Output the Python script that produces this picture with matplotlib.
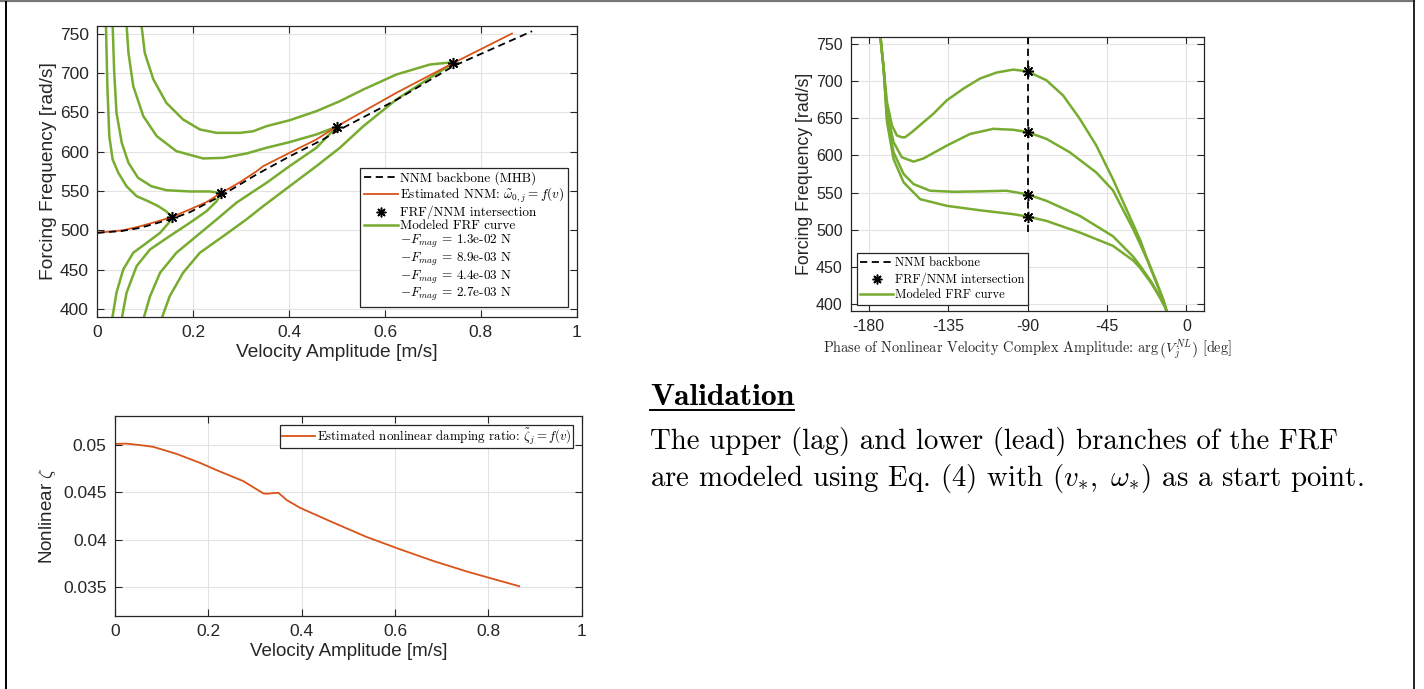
import numpy as np
import matplotlib.pyplot as plt
from matplotlib.lines import Line2D
from matplotlib.ticker import FuncFormatter

plt.rcParams['font.family'] = 'Liberation Sans'
plt.rcParams['mathtext.fontset'] = 'cm'
plt.rcParams['axes.unicode_minus'] = False

# ---- data ----
# NNM backbone (MHB) and estimated NNM, frequency vs velocity amplitude
bb_v = [0, 0.05, 0.089, 0.156, 0.193, 0.257, 0.332, 0.401, 0.471, 0.499, 0.624, 0.743, 0.907]
bb_w = [496.8, 499, 503, 514.6, 523, 543.5, 571, 594, 615.6, 626, 666, 709, 753.4]
est_v = [0, 0.054, 0.089, 0.124, 0.156, 0.193, 0.228, 0.257, 0.297, 0.332, 0.346,
         0.401, 0.457, 0.499, 0.624, 0.743, 0.865]
est_w = [496.8, 500, 505, 511, 517, 526.5, 536, 547, 561, 575, 581.6,
         598.6, 615.6, 632, 675, 713, 750.4]

# FRF/NNM intersections
star_v = [0.156, 0.257, 0.499, 0.743]
star_w = [517, 547, 631.5, 713.5]
star_phase = [-90, -90, -90, -90]

force_labels = ['1.3e-02', '8.9e-03', '4.4e-03', '2.7e-03']

# modeled FRF curves, upper and lower branches (velocity amplitude)
up_v_13 = [0.092, 0.099, 0.117, 0.144, 0.179, 0.214, 0.249, 0.297, 0.325, 0.353, 0.401,
           0.457, 0.506, 0.555, 0.624, 0.694, 0.743]
up_w_13 = [762, 725.8, 691.9, 662.2, 641, 628.3, 624, 624, 626, 632.5, 640,
           651.6, 664.3, 679.2, 698.3, 711, 714]
lo_v_13 = [0.136, 0.151, 0.179, 0.214, 0.263, 0.311, 0.346, 0.401, 0.457, 0.506,
           0.555, 0.624, 0.694, 0.743]
lo_w_13 = [390.8, 416, 446, 471.4, 492.6, 513.8, 530.7, 556, 581.6, 605,
           632.5, 666.5, 694, 713]

up_v_89 = [0.061, 0.065, 0.075, 0.096, 0.124, 0.165, 0.221, 0.263, 0.311, 0.353,
           0.401, 0.457, 0.499]
up_w_89 = [761.9, 725.8, 683.4, 645.2, 619.8, 600.7, 591.4, 592.2, 597.7, 605,
           612.2, 622, 631.7]
lo_v_89 = [0.098, 0.11, 0.131, 0.165, 0.207, 0.249, 0.29, 0.332, 0.353, 0.401, 0.457, 0.499]
lo_w_89 = [390.8, 416, 446, 471.4, 492.6, 513.8, 535, 552, 560.4, 581.6, 605, 631.5]

up_v_44 = [0.032, 0.035, 0.040, 0.051, 0.065, 0.085, 0.113, 0.144, 0.193, 0.235, 0.257]
up_w_44 = [761.9, 704.6, 649.5, 611.3, 585.9, 566.8, 556, 551, 549.4, 549.4, 547.5]
lo_v_44 = [0.052, 0.061, 0.082, 0.11, 0.151, 0.193, 0.228, 0.249, 0.257]
lo_w_44 = [390.8, 420.5, 454.4, 475.6, 492.6, 509.5, 524.4, 537, 547]

up_v_27 = [0.018, 0.021, 0.025, 0.032, 0.044, 0.061, 0.082, 0.106, 0.127, 0.143, 0.156]
up_w_27 = [761.9, 683.4, 619.8, 590, 573, 556, 543.4, 537, 530.7, 524.4, 517]
lo_v_27 = [0.032, 0.040, 0.054, 0.075, 0.103, 0.131, 0.148, 0.156]
lo_w_27 = [390.8, 420.5, 450, 471.4, 484, 496.8, 508.7, 517]

# modeled FRF curves vs phase of the nonlinear velocity amplitude
ph_13 = [-173.4, -171.5, -169.6, -166.8, -164, -161, -159.3, -155.5, -148.9, -143.3, -135.7,
         -126.3, -116.9, -107.5, -98, -90, -79.3, -69.8, -60.4, -51, -41.6, -32.2, -26,
         -22.8, -17, -13, -10.5]
pw_13 = [762, 717, 672, 640.6, 627, 624.5, 624.7, 631.5, 645, 656.4, 674.5,
         690.3, 703.9, 712, 716, 713.5, 701.6, 681, 649.6, 613.4, 568, 518, 485,
         464, 430, 405, 385]
ph_89 = [-173.4, -171.5, -169.6, -165.9, -161.2, -154.6, -148.9, -135.7, -122.6, -109.4,
         -98, -90, -79.3, -66.1, -51, -41.6, -30, -26.5, -22, -17, -13, -10.5]
pw_89 = [762, 717, 658.7, 618, 597.6, 591.7, 596, 613.4, 629, 636,
         634.7, 631.5, 622.5, 604.4, 577, 553, 500, 482, 458, 428, 404, 385]
ph_44 = [-173.4, -171.5, -169.6, -165.9, -160.2, -154.6, -145.2, -132, -116.9, -101.9,
         -90, -79.3, -60.4, -41.6, -30, -26.5, -20, -15.2, -12, -10.5]
pw_44 = [762, 717, 649.6, 604.4, 575, 561.4, 552.4, 551, 551.5, 552.4,
         547.5, 538.8, 518.5, 491, 463, 452, 430, 410, 395, 385]
ph_27 = [-173.4, -171.5, -169.6, -165.9, -160.2, -150.8, -135.7, -116.9, -98, -90,
         -79.3, -60.4, -41.6, -30, -26.5, -20, -15.2, -12, -10.5]
pw_27 = [762, 717, 645, 595.3, 563.7, 541, 532, 526, 520.7, 517.5,
         511.7, 496, 478, 458, 449, 428, 409, 395, 385]
bb_phase = [-90, -90]
bb_phase_w = [760, 497]

# estimated nonlinear damping ratio
zeta_v = [0, 0.025, 0.061, 0.082, 0.132, 0.182, 0.218, 0.275, 0.318, 0.325, 0.35,
          0.368, 0.396, 0.468, 0.539, 0.611, 0.682, 0.754, 0.825, 0.866]
zeta = [0.05007, 0.0501, 0.0499, 0.04976, 0.04902, 0.04808, 0.04731, 0.04616, 0.04487,
        0.04484, 0.04494, 0.04417, 0.04337, 0.0418, 0.0403, 0.039, 0.03778, 0.03667,
        0.03569, 0.03513]

GREEN = '#77AC30'
ORANGE = '#D95319'
AXC = '#262626'
W, H = 1424, 689
SERIF = 'cmr10'
DASH = (0, (4, 2.5))
STAR = (8, 2, 0)


def matlab_axes(rect):
    ax = fig.add_axes(rect)
    ax.grid(True, color='#e3e3e3', lw=0.8)
    ax.set_axisbelow(True)
    for s in ax.spines.values():
        s.set_color(AXC)
        s.set_linewidth(0.9)
    ax.tick_params(direction='in', top=True, right=True, length=5,
                   width=0.8, color=AXC, labelcolor=AXC, pad=6)
    return ax


def px_rect(x0, x1, y0, y1):
    return [x0 / W, 1 - y1 / H, (x1 - x0) / W, (y1 - y0) / H]


def boxed_legend(ax, handles, labels, size, **kw):
    leg = ax.legend(handles, labels, borderaxespad=0,
                    prop={'family': SERIF, 'size': size}, handlelength=2.6,
                    handletextpad=0.15, fancybox=False, framealpha=1,
                    edgecolor=AXC, **kw)
    leg.get_frame().set_linewidth(0.9)
    return leg


fig = plt.figure(figsize=(W / 100, H / 100), dpi=100)
fmt = FuncFormatter(lambda x, p: f'{x:g}')

# ---- top left: frequency vs velocity amplitude ----
ax1 = matlab_axes(px_rect(97.3, 576.7, 26, 316.7))
for uv, uw, lv, lw_ in [(up_v_13, up_w_13, lo_v_13, lo_w_13),
                        (up_v_89, up_w_89, lo_v_89, lo_w_89),
                        (up_v_44, up_w_44, lo_v_44, lo_w_44),
                        (up_v_27, up_w_27, lo_v_27, lo_w_27)]:
    ax1.plot(uv, uw, color=GREEN, lw=1.8)
    ax1.plot(lv, lw_, color=GREEN, lw=1.8)
ax1.plot(est_v, est_w, color=ORANGE, lw=1.3)
ax1.plot(bb_v, bb_w, color='k', lw=1.3, ls=DASH)
ax1.plot(star_v, star_w, ls='none', marker=STAR, color='k', ms=8, mew=1.1)
ax1.set_xlim(0, 1)
ax1.set_ylim(390, 760)
ax1.set_xticks(np.arange(0, 1.01, 0.2))
ax1.set_yticks(np.arange(400, 751, 50))
ax1.xaxis.set_major_formatter(fmt)
ax1.tick_params(labelsize=12.5)
ax1.set_xlabel('Velocity Amplitude [m/s]', fontsize=13.75, color=AXC, labelpad=3)
ax1.set_ylabel('Forcing Frequency [rad/s]', fontsize=13.75, color=AXC, labelpad=2)

h_bb = Line2D([], [], color='k', lw=1.3, ls=DASH)
h_est = Line2D([], [], color=ORANGE, lw=1.3)
h_star = Line2D([], [], ls='none', marker=STAR, color='k', ms=7, mew=1.1)
h_frf = Line2D([], [], color=GREEN, lw=1.8)
h_none = [Line2D([], [], color='none') for _ in force_labels]
boxed_legend(ax1, [h_bb, h_est, h_star, h_frf] + h_none,
             ['NNM backbone (MHB)', r'Estimated NNM: $\tilde{\omega}_{0,j} = f(v)$',
              'FRF/NNM intersection', 'Modeled FRF curve'] +
             [r'$-F_{mag}$ = ' + f + ' N' for f in force_labels],
             9.5, loc='lower right', bbox_to_anchor=(0.982, 0.033),
             labelspacing=0.05, borderpad=0.28)

# ---- top right: frequency vs phase ----
ax2 = matlab_axes(px_rect(851, 1204, 37, 311))
for ph, pw in [(ph_13, pw_13), (ph_89, pw_89), (ph_44, pw_44), (ph_27, pw_27)]:
    ax2.plot(ph, pw, color=GREEN, lw=1.8)
ax2.plot(bb_phase, bb_phase_w, color='k', lw=1.3, ls=DASH)
ax2.plot(star_phase, star_w, ls='none', marker=STAR, color='k', ms=8, mew=1.1)
ax2.set_xlim(-190, 10)
ax2.set_ylim(390, 760)
ax2.set_xticks([-180, -135, -90, -45, 0])
ax2.set_yticks(np.arange(400, 751, 50))
ax2.tick_params(labelsize=11.5)
ax2.set_xlabel(r'Phase of Nonlinear Velocity Complex Amplitude: $\arg\left(V_j^{NL}\right)$ [deg]',
               family=SERIF, fontsize=10.3, color=AXC, labelpad=2)
ax2.set_ylabel('Forcing Frequency [rad/s]', fontsize=12.75, color=AXC, labelpad=2)
boxed_legend(ax2, [h_bb, h_star, h_frf],
             ['NNM backbone', 'FRF/NNM intersection', 'Modeled FRF curve'],
             9, loc='lower left', bbox_to_anchor=(0.016, 0.022),
             labelspacing=0.25, borderpad=0.3)

# ---- bottom left: damping ratio ----
ax3 = matlab_axes(px_rect(115, 581.7, 416, 616))
ax3.plot(zeta_v, zeta, color=ORANGE, lw=1.3)
ax3.set_xlim(0, 1)
ax3.set_ylim(0.032, 0.053)
ax3.set_xticks(np.arange(0, 1.01, 0.2))
ax3.set_yticks([0.035, 0.04, 0.045, 0.05])
ax3.xaxis.set_major_formatter(fmt)
ax3.yaxis.set_major_formatter(fmt)
ax3.tick_params(labelsize=12.5)
ax3.set_xlabel('Velocity Amplitude [m/s]', fontsize=13.5, color=AXC, labelpad=3)
ax3.set_ylabel(r'Nonlinear $\zeta$', fontsize=13.5, color=AXC, labelpad=4)
boxed_legend(ax3, [h_est], [r'Estimated nonlinear damping ratio: $\tilde{\zeta}_j = f(v)$'],
             9.3, loc='upper right', bbox_to_anchor=(0.982, 0.955), borderpad=0.12)

# ---- text block ----
title = fig.text(650 / W, 1 - 405 / H, 'Validation', family='cmb10', fontsize=22.8,
                 va='baseline', ha='left', color='k')
fig.text(650 / W, 1 - 449 / H, 'The upper (lag) and lower (lead) branches of the FRF',
         family=SERIF, fontsize=20.8, va='baseline', ha='left')
fig.text(650 / W, 1 - 486 / H,
         r'are modeled using Eq. (4) with $(v_{*},\ \omega_{*})$ as a start point.',
         family=SERIF, fontsize=20.8, va='baseline', ha='left')

fig.canvas.draw()
bb = title.get_window_extent()
fig.add_artist(Line2D([bb.x0 / W, bb.x1 / W], [1 - 410 / H, 1 - 410 / H],
                      color='k', lw=1.4, transform=fig.transFigure))

# ---- slide frame ----
fig.add_artist(Line2D([0, 1413.5 / W], [1 - 0.8 / H, 1 - 0.8 / H], color='#777777', lw=1.6,
                      transform=fig.transFigure))
fig.add_artist(Line2D([5.5 / W, 5.5 / W], [0, 1 - 1.5 / H], color='k', lw=1.4,
                      transform=fig.transFigure))
fig.add_artist(Line2D([1413.5 / W, 1413.5 / W], [0, 1], color='#222222', lw=1.4,
                      transform=fig.transFigure))

fig.savefig('out.png', dpi=100)
